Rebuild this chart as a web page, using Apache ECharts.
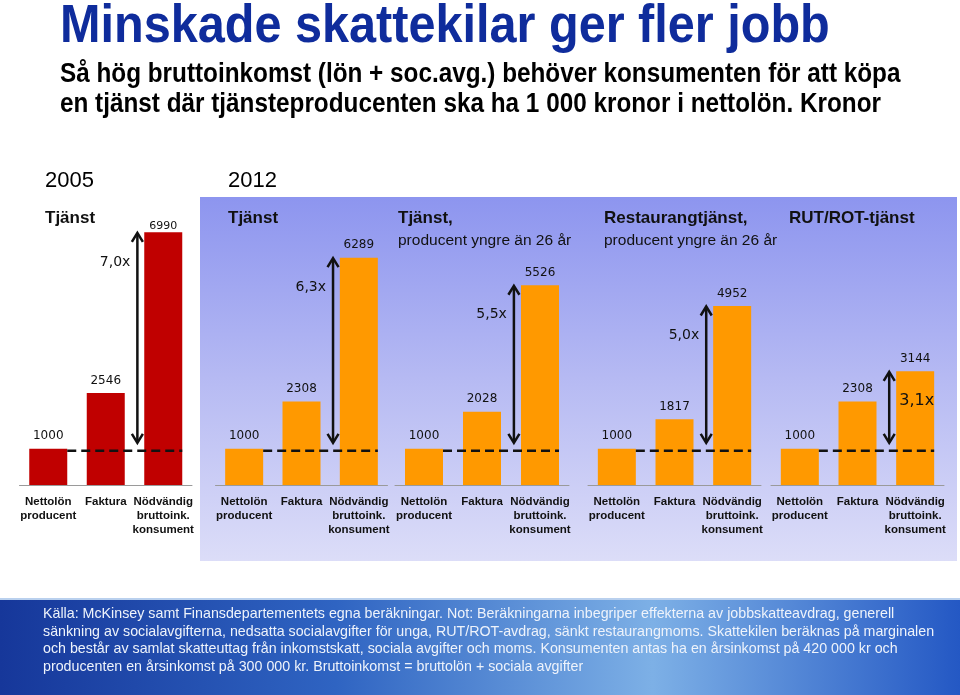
<!DOCTYPE html>
<html><head><meta charset="utf-8">
<script src="https://cdn.jsdelivr.net/npm/echarts@6/dist/echarts.min.js"></script>
<style>html,body{margin:0;padding:0;background:#fff}#c{width:960px;height:695px}</style>
</head><body><div id="c"></div>
<script>
// ---- data ----
const categories = ['Nettolön\nproducent', 'Faktura', 'Nödvändig\nbruttoink.\nkonsument'];
const nettolon = [1000, 1000, 1000, 1000, 1000];
const faktura = [2546, 2308, 2028, 1817, 2308];
const brutto = [6990, 6289, 5526, 4952, 3144];
const multipliers = ['7,0x', '6,3x', '5,5x', '5,0x', '3,1x'];
const yearLabels = ['2005', '2012'];
const groupTitles = ['Tjänst', 'Tjänst', 'Tjänst,', 'Restaurangtjänst,', 'RUT/ROT-tjänst'];
const groupSubtitles = ['', '', 'producent yngre än 26 år', 'producent yngre än 26 år', ''];
const titleText = 'Minskade skattekilar ger fler jobb';
const subtitleLines = ['Så hög bruttoinkomst (lön + soc.avg.) behöver konsumenten för att köpa',
                       'en tjänst där tjänsteproducenten ska ha 1 000 kronor i nettolön. Kronor'];
const footerLines = [
 'Källa: McKinsey samt Finansdepartementets egna beräkningar. Not: Beräkningarna inbegriper effekterna av jobbskatteavdrag, generell',
 'sänkning av socialavgifterna, nedsatta socialavgifter för unga, RUT/ROT-avdrag, sänkt restaurangmoms. Skattekilen beräknas på marginalen',
 'och består av samlat skatteuttag från inkomstskatt, sociala avgifter och moms. Konsumenten antas ha en årsinkomst på 420 000 kr och',
 'producenten en årsinkomst på 300 000 kr. Bruttoinkomst = bruttolön + sociala avgifter'];

// ---- layout / style ----
const yMax = 7000;
const gridLeft = [19.5, 215.5, 395, 588, 771];
const gridWidth = [172.5, 172, 174, 173, 173];
const barColors = ['#c00000', '#ff9900', '#ff9900', '#ff9900', '#ff9900'];
const headerX = [45, 228, 398, 604, 789];
const yearX = [45, 228];
const BAR_W = 38;
const FONT = "'Liberation Sans', Arial, sans-serif";

const grids = [], xAxes = [], yAxes = [], series = [];
for (let i = 0; i < 5; i++) {
  grids.push({left: gridLeft[i], width: gridWidth[i], top: 232, bottom: 210, containLabel: false});
  xAxes.push({type: 'category', gridIndex: i, data: categories,
    axisTick: {show: false},
    axisLine: {show: true, lineStyle: {color: '#9a9a9a', width: 1}},
    axisLabel: {interval: 0, color: '#111', fontWeight: 'bold', fontSize: 11.5, fontFamily: FONT, lineHeight: 14, margin: 10}});
  yAxes.push({type: 'value', gridIndex: i, min: 0, max: yMax, show: false, splitLine: {show: false}});
  const vals = [nettolon[i], faktura[i], brutto[i]];
  series.push({
    type: 'bar', xAxisIndex: i, yAxisIndex: i, barWidth: BAR_W, silent: true, z: 2,
    itemStyle: {color: barColors[i]},
    label: {show: true, position: 'top', distance: 6.5, color: '#111', fontFamily: "'DejaVu Sans', sans-serif", fontSize: 12},
    data: vals.map((v, j) => (i === 0 && j === 2) ? {value: v, label: {fontSize: 11, distance: 1}} : {value: v})
  });
  series.push({
    type: 'custom', xAxisIndex: i, yAxisIndex: i, silent: true, z: 5,
    data: [[2, brutto[i], i, nettolon[i]]],
    renderItem: function (params, api) {
      const idx = api.value(2);
      const top = api.coord([2, api.value(1)]);
      const base0 = api.coord([0, api.value(3)]);
      const c1 = api.coord([1, api.value(3)]);
      const band = api.size([1, 0])[0];
      const half = BAR_W / 2;
      const yLine = base0[1] + 2;
      const ax = c1[0] + band * 0.55;
      const yTop = top[1] + 0.5;
      const yBot = base0[1] - 6;
      const inside = idx === 4;
      return {type: 'group', children: [
        {type: 'line', shape: {x1: base0[0] + half, y1: yLine, x2: top[0] + half, y2: yLine},
         style: {stroke: '#111', lineWidth: 2.5, lineDash: [9, 5]}},
        {type: 'line', shape: {x1: ax, y1: yTop + 1, x2: ax, y2: yBot - 1},
         style: {stroke: '#111', lineWidth: 2.5}},
        {type: 'polyline', shape: {points: [[ax - 5.5, yTop + 9], [ax, yTop], [ax + 5.5, yTop + 9]]},
         style: {stroke: '#111', lineWidth: 2.5, fill: null}},
        {type: 'polyline', shape: {points: [[ax - 5.5, yBot - 9], [ax, yBot], [ax + 5.5, yBot - 9]]},
         style: {stroke: '#111', lineWidth: 2.5, fill: null}},
        {type: 'text', x: inside ? ax + 10 : ax - 7, y: yTop + 29,
         style: {text: multipliers[idx], fill: '#111', font: (inside ? '16px' : '14px') + " 'DejaVu Sans', sans-serif",
                 align: inside ? 'left' : 'right', verticalAlign: 'middle'}}
      ]};
    }
  });
}

const graphic = [
  {type: 'rect', z: 0, shape: {x: 200, y: 197, width: 757, height: 364},
   style: {fill: {type: 'linear', x: 0, y: 0, x2: 0, y2: 1, colorStops: [
     {offset: 0, color: '#8d95ef'}, {offset: 0.5, color: '#b6baf3'}, {offset: 1, color: '#dcddf8'}]}}},
  {type: 'rect', z: 0, shape: {x: 0, y: 598, width: 960, height: 97},
   style: {fill: {type: 'linear', x: 0, y: 0, x2: 1, y2: 0, colorStops: [
     {offset: 0, color: '#16379a'}, {offset: 0.35, color: '#2f64c2'}, {offset: 0.68, color: '#7db0e6'}, {offset: 1, color: '#2458c4'}]}}},
  {type: 'rect', z: 1, shape: {x: 0, y: 598, width: 960, height: 2}, style: {fill: '#b9d0ee'}},
  {type: 'text', z: 10, x: 60, y: 27, scaleX: 0.9,
   style: {text: titleText, font: "bold 54px " + FONT, fill: '#0f2c9c', verticalAlign: 'middle'}},
];
subtitleLines.forEach((t, k) => graphic.push({type: 'text', z: 10, x: 60, y: 75 + k * 30, scaleX: 0.9,
  style: {text: t, font: "bold 27px " + FONT, fill: '#000', verticalAlign: 'middle'}}));
yearLabels.forEach((t, k) => graphic.push({type: 'text', z: 10, x: yearX[k], y: 181,
  style: {text: t, font: "22px " + FONT, fill: '#000', verticalAlign: 'middle'}}));
groupTitles.forEach((t, k) => {
  graphic.push({type: 'text', z: 10, x: headerX[k], y: 218,
    style: {text: t, font: "bold 17px " + FONT, fill: '#111', verticalAlign: 'middle'}});
  if (groupSubtitles[k]) graphic.push({type: 'text', z: 10, x: headerX[k], y: 241,
    style: {text: groupSubtitles[k], font: "15.5px " + FONT, fill: '#111', verticalAlign: 'middle'}});
});
footerLines.forEach((t, k) => graphic.push({type: 'text', z: 10, x: 43, y: 614 + k * 17.6, scaleX: 0.95,
  style: {text: t, font: "15px " + FONT, fill: '#eef3fb', verticalAlign: 'middle'}}));

const chart = echarts.init(document.getElementById('c'), null, {renderer: 'canvas'});
chart.setOption({
  animation: false,
  grid: grids, xAxis: xAxes, yAxis: yAxes, series: series, graphic: graphic
});
</script></body></html>
